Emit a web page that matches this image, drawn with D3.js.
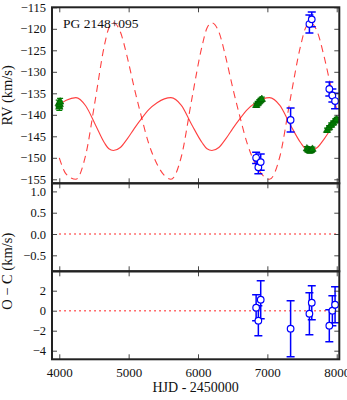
<!DOCTYPE html>
<html>
<head>
<meta charset="utf-8">
<script src="https://cdn.jsdelivr.net/npm/d3@7"></script>
<style>
  body { margin: 0; background: #fff; }
  svg text { font-family: "Liberation Serif", "DejaVu Serif", serif; fill: #111; }
</style>
</head>
<body>
<svg id="chart"></svg>
<script>
// Model curves
const modelHJD = [4000, 4100, 4240, 4380, 4520, 4650, 4715, 4780, 4880, 4980, 5080, 5180, 5290, 5410, 5515,
  5610, 5760, 5910, 6060, 6130, 6200, 6300, 6400, 6500, 6600, 6710, 6830, 6935,
  7030, 7180, 7330, 7480, 7550, 7620, 7720, 7820, 7920, 8000];
const solidRV = [-137.6, -136.6, -136.0, -137.9, -142.3, -146.5, -147.9, -148.3, -147.6, -145.6, -143.2, -141.0, -138.8, -137.2, -136.3,
  -136.0, -137.8, -142.3, -146.5, -147.9, -148.3, -147.6, -145.6, -143.2, -141.0, -138.8, -137.2, -136.3,
  -136.0, -137.8, -142.3, -146.5, -147.9, -148.3, -147.6, -145.6, -143.2, -141.4];
const dashedRV = [-150.0, -153.8, -155.0, -149.4, -136.4, -123.9, -119.8, -118.6, -120.7, -126.6, -133.7, -140.2, -146.7, -151.5, -154.1,
  -155.0, -149.7, -136.4, -123.9, -119.8, -118.6, -120.7, -126.6, -133.7, -140.2, -146.7, -151.5, -154.1,
  -155.0, -149.7, -136.4, -123.9, -119.8, -118.6, -120.7, -126.6, -133.7, -138.7];

// Green triangles
const greenHJD = [3992, 4000, 4006, 4012, 6840, 6860, 6880, 6900, 6920, 7570, 7590, 7610, 7630, 7650, 7860, 7890, 7920, 7950, 7980, 8000];
const greenRV = [-137.4, -138.2, -137.6, -137.0, -137.8, -137.4, -137.0, -136.7, -136.4, -147.9, -148.2, -148.4, -148.3, -148.0, -143.6, -143.0, -142.4, -141.9, -141.4, -141.1];
const greenErr = [0.8, 0.8, 0.8, 0.8, 0.5, 0.5, 0.5, 0.5, 0.5, 0.5, 0.5, 0.5, 0.5, 0.5, 0.5, 0.5, 0.5, 0.5, 0.5, 0.5];

// Blue circles
const blueHJD = [6838, 6870, 6904, 7335, 7606, 7640, 7893, 7937, 7976];
const blueRV = [-150.0, -152.2, -151.0, -141.2, -118.9, -117.8, -134.0, -135.5, -136.8];
const blueErr = [1.3, 1.5, 1.9, 2.8, 2.1, 1.7, 1.6, 1.5, 1.8];
const blueOC = [0.3, -1.0, 1.1, -1.8, -0.3, 0.8, -1.5, 0.0, 0.6];

const xTicks = [4000, 5000, 6000, 7000, 8000];
const rvTicks = [-155, -150, -145, -140, -135, -130, -125, -120, -115];
const midTicks = [-0.5, 0.0, 0.5, 1.0];
const ocTicks = [-4, -2, 0, 2];

const width = 347, height = 400;
const left = 52, right = 339.3;
const svg = d3.select('#chart').attr('width', width).attr('height', height);

const x = d3.scaleLinear().domain([3895, 8037]).range([left, right]);

// wide minus like the TeX one
const minus = s => s.replace('-', '\u2212\u2004');
const panels = [
  { top: 7.3, bottom: 183.3, domain: [-155.93, -115], ticks: rvTicks, fmt: d => minus(d3.format('d')(d)) },
  { top: 183.3, bottom: 271.3, domain: [-0.875, 1.19], ticks: midTicks, fmt: d => minus(d3.format('.1f')(d)) },
  { top: 271.3, bottom: 359.3, domain: [-4.86, 3.94], ticks: ocTicks, fmt: d => minus(d3.format('d')(d)) }
];
panels.forEach(p => { p.y = d3.scaleLinear().domain(p.domain).range([p.bottom, p.top]); });

const red = 'rgba(255,0,0,0.75)';

// clip paths
panels.forEach((p, i) => {
  svg.append('clipPath').attr('id', 'clip' + i)
    .append('rect').attr('x', left).attr('y', p.top).attr('width', right - left).attr('height', p.bottom - p.top);
});

// top panel: model curves
const yTop = panels[0].y;
const gTop = svg.append('g').attr('clip-path', 'url(#clip0)');
const modelLine = d3.line().x((d, i) => x(modelHJD[i])).y(d => yTop(d)).curve(d3.curveMonotoneX);

gTop.append('path').datum(dashedRV).attr('d', modelLine)
  .attr('fill', 'none').attr('stroke', red).attr('stroke-width', 1.1).attr('stroke-dasharray', '7,5');
gTop.append('path').datum(solidRV).attr('d', modelLine)
  .attr('fill', 'none').attr('stroke', red).attr('stroke-width', 1.1);

// green triangles with error bars
const green = '#008000';
greenHJD.forEach((h, i) => {
  const cx = x(h);
  const y1 = yTop(greenRV[i] - greenErr[i]), y2 = yTop(greenRV[i] + greenErr[i]);
  gTop.append('line').attr('x1', cx).attr('x2', cx).attr('y1', y1).attr('y2', y2).attr('stroke', green).attr('stroke-width', 1.2);
  gTop.append('line').attr('x1', cx - 3).attr('x2', cx + 3).attr('y1', y1).attr('y2', y1).attr('stroke', green).attr('stroke-width', 1.2);
  gTop.append('line').attr('x1', cx - 3).attr('x2', cx + 3).attr('y1', y2).attr('y2', y2).attr('stroke', green).attr('stroke-width', 1.2);
});
gTop.selectAll('path.tri').data(greenHJD).enter().append('path')
  .attr('class', 'tri')
  .attr('d', d3.symbol(d3.symbolTriangle).size(24))
  .attr('transform', (d, i) => `translate(${x(d)},${yTop(greenRV[i])})`)
  .attr('fill', green).attr('stroke', '#005a00').attr('stroke-width', 0.6);

// blue circles with error bars (top and bottom panel)
const blue = '#0000ff';
function blueMarks(g, yScale, vals) {
  blueHJD.forEach((h, i) => {
    const cx = x(h);
    const y1 = yScale(vals[i] - blueErr[i]), y2 = yScale(vals[i] + blueErr[i]);
    g.append('line').attr('x1', cx).attr('x2', cx).attr('y1', y1).attr('y2', y2).attr('stroke', blue).attr('stroke-width', 1.5);
    g.append('line').attr('x1', cx - 4).attr('x2', cx + 4).attr('y1', y1).attr('y2', y1).attr('stroke', blue).attr('stroke-width', 1.5);
    g.append('line').attr('x1', cx - 4).attr('x2', cx + 4).attr('y1', y2).attr('y2', y2).attr('stroke', blue).attr('stroke-width', 1.5);
  });
  g.selectAll('circle.b').data(blueHJD).enter().append('circle')
    .attr('class', 'b')
    .attr('cx', d => x(d)).attr('cy', (d, i) => yScale(vals[i])).attr('r', 3.3)
    .attr('fill', '#fff').attr('stroke', blue).attr('stroke-width', 1.2);
}
blueMarks(gTop, yTop, blueRV);

// zero lines in residual panels
[1, 2].forEach(k => {
  const p = panels[k];
  svg.append('line').attr('x1', x(4000)).attr('x2', right).attr('y1', p.y(0)).attr('y2', p.y(0))
    .attr('stroke', red).attr('stroke-width', 1.5).attr('stroke-dasharray', '1.5,3.5');
});

const gBot = svg.append('g').attr('clip-path', 'url(#clip2)');
blueMarks(gBot, panels[2].y, blueOC);

// axes: ticks inward on every side
panels.forEach((p, k) => {
  const g = svg.append('g');
  const ax = (gen, tx, ty) => g.append('g').attr('transform', `translate(${tx},${ty})`).call(gen)
    .call(s => s.select('.domain').remove())
    .call(s => s.selectAll('.tick line').attr('stroke', '#333').attr('stroke-width', 0.9));
  ax(d3.axisLeft(p.y).tickValues(p.ticks).tickSize(-5).tickPadding(6).tickFormat(p.fmt), left, 0)
    .selectAll('text').style('font-size', '12.5px');
  ax(d3.axisRight(p.y).tickValues(p.ticks).tickSize(-5).tickFormat(''), right, 0);
  ax(d3.axisTop(x).tickValues(xTicks).tickSize(-5).tickFormat(''), 0, p.top);
  const b = ax(d3.axisBottom(x).tickValues(xTicks).tickSize(-5).tickPadding(8)
    .tickFormat(k === 2 ? d3.format('d') : ''), 0, p.bottom);
  b.selectAll('text').style('font-size', '13px');
  g.append('rect').attr('x', left).attr('y', p.top).attr('width', right - left).attr('height', p.bottom - p.top)
    .attr('fill', 'none').attr('stroke', '#222').attr('stroke-width', 2);
});

// labels
svg.append('text').attr('x', 63).attr('y', 28).style('font-size', '13.5px').text('PG 2148+095');
svg.append('text').attr('transform', `translate(12,${(panels[0].top + panels[0].bottom) / 2}) rotate(-90)`)
  .attr('text-anchor', 'middle').style('font-size', '14.5px').text('RV (km/s)');
svg.append('text').attr('transform', `translate(12,${panels[1].bottom}) rotate(-90)`)
  .attr('text-anchor', 'middle').style('font-size', '14.5px').text('O \u2212 C (km/s)');
svg.append('text').attr('x', (left + right) / 2).attr('y', 392)
  .attr('text-anchor', 'middle').style('font-size', '14px').text('HJD - 2450000');
</script>
</body>
</html>
